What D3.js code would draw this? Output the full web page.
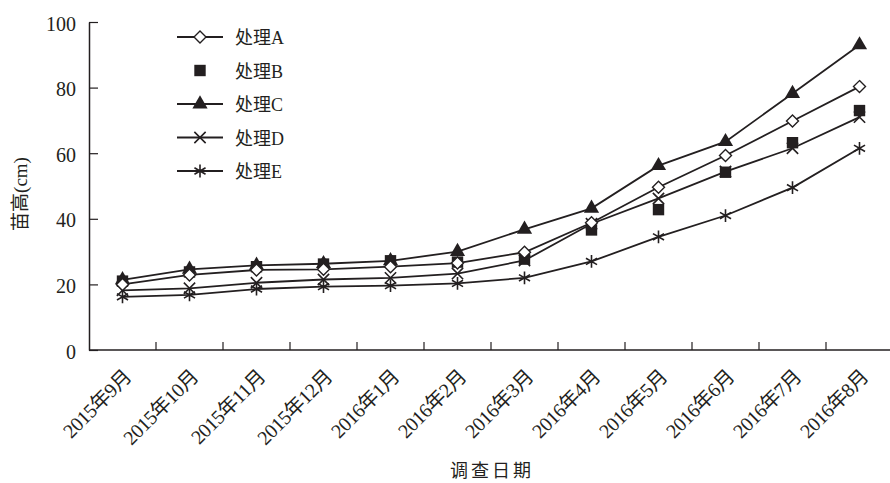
<!DOCTYPE html>
<html>
<head>
<meta charset="utf-8">
<script src="https://cdn.jsdelivr.net/npm/d3@7"></script>
<style>
  body { margin: 0; background: #fff; }
  svg text { font-family: "Liberation Serif", "Noto Sans CJK SC", serif; fill: #231f20; }
</style>
</head>
<body>
<div id="chart"></div>
<script>
// 调查日期
const categories = ["2015年9月", "2015年10月", "2015年11月", "2015年12月", "2016年1月", "2016年2月",
                    "2016年3月", "2016年4月", "2016年5月", "2016年6月", "2016年7月", "2016年8月"];
// 苗高 (cm)
const seriesA = [20.0, 22.9, 24.4, 24.6, 25.4, 26.5, 29.8, 38.8, 49.6, 59.3, 69.8, 80.3];
const seriesB = [21.0, 23.8, 25.4, 26.2, 27.2, 26.8, 27.7, 36.6, 42.8, 54.2, 63.2, 73.0];
const seriesC = [21.4, 24.6, 25.8, 26.3, 27.2, 30.0, 36.8, 43.2, 56.2, 63.5, 78.2, 93.0];
const seriesD = [18.2, 18.8, 20.5, 21.5, 22.0, 23.3, 27.3, 38.5, 46.2, 54.4, 61.5, 71.0];
const seriesE = [16.2, 16.8, 18.6, 19.3, 19.6, 20.3, 22.0, 27.0, 34.5, 41.0, 49.5, 61.5];
const seriesNames = ["处理A", "处理B", "处理C", "处理D", "处理E"];
const yTicks = [0, 20, 40, 60, 80, 100];

const ink = "#231f20";
const W = 890, H = 483;
const plot = { left: 89, right: 893, top: 22, bottom: 350 };

const svg = d3.select("#chart").append("svg")
    .attr("width", W)
    .attr("height", H);

const x = d3.scaleBand().domain(categories).range([plot.left, plot.right]).padding(0);
const y = d3.scaleLinear().domain([0, 100]).range([plot.bottom, plot.top]);
const cx = d => x(d) + x.bandwidth() / 2;

// Trục Y
const yAxis = svg.append("g")
    .attr("transform", `translate(${plot.left},0)`)
    .call(d3.axisLeft(y).tickValues(yTicks).tickSizeInner(-9).tickSizeOuter(0).tickPadding(13));
yAxis.select(".domain").attr("stroke", ink).attr("stroke-width", 1.5);
yAxis.selectAll(".tick line").attr("stroke", ink).attr("stroke-width", 1.2);
yAxis.selectAll(".tick text")
    .style("font-size", "20px")
    .style("font-family", "'Liberation Serif', serif")
    .attr("dy", "0.4em")
    .attr("fill", ink);

// Trục X: vạch chia ở ranh giới giữa các tháng
svg.append("line")
    .attr("x1", plot.left).attr("x2", W)
    .attr("y1", y(0)).attr("y2", y(0))
    .attr("stroke", ink).attr("stroke-width", 1.5);
svg.selectAll(".xtick")
    .data(categories.slice(1))
    .join("line")
    .attr("class", "xtick")
    .attr("x1", d => x(d)).attr("x2", d => x(d))
    .attr("y1", y(0)).attr("y2", y(0) - 8)
    .attr("stroke", ink).attr("stroke-width", 1.2);
svg.selectAll(".xlabel")
    .data(categories)
    .join("text")
    .attr("class", "xlabel")
    .attr("transform", d => `translate(${cx(d) + 10},${y(0) + 28}) rotate(-45)`)
    .attr("text-anchor", "end")
    .style("font-size", "20px")
    .style("letter-spacing", "-0.5px")
    .text(d => d);

// Tiêu đề trục
svg.append("text")
    .attr("x", 492).attr("y", 477)
    .attr("text-anchor", "middle")
    .style("font-size", "18px")
    .style("letter-spacing", "3px")
    .text("调查日期");
svg.append("text")
    .attr("transform", `translate(27,${(plot.top + plot.bottom) / 2 + 8}) rotate(-90)`)
    .attr("text-anchor", "middle")
    .style("font-size", "19px")
    .text("苗高(cm)");

// Hình thoi rỗng: hình vuông xoay 45°
const diamond = {
    draw(ctx, size) {
        const r = Math.sqrt(size / 2);
        ctx.moveTo(0, -r); ctx.lineTo(r, 0); ctx.lineTo(0, r); ctx.lineTo(-r, 0); ctx.closePath();
    }
};

// Cấu hình ký hiệu cho từng chuỗi
const specs = [
    { name: seriesNames[0], values: seriesA, line: true,  type: diamond,          size: 72, fill: "#fff", stroke: ink, sw: 1.4 },
    { name: seriesNames[1], values: seriesB, line: false, type: d3.symbolSquare,   size: 130, fill: ink,   stroke: "none", sw: 0 },
    { name: seriesNames[2], values: seriesC, line: true,  type: d3.symbolTriangle, size: 100, fill: ink,   stroke: "none", sw: 0 },
    { name: seriesNames[3], values: seriesD, line: true,  type: d3.symbolX,        size: 85, fill: "none", stroke: ink, sw: 1.6 },
    { name: seriesNames[4], values: seriesE, line: true,  type: d3.symbolAsterisk, size: 115, fill: "none", stroke: ink, sw: 1.6 }
];

const lineGen = d3.line()
    .x((d, i) => cx(categories[i]))
    .y(d => y(d));

// Vẽ các đường trước, rồi ký hiệu
specs.filter(s => s.line).forEach(s => {
    svg.append("path")
        .datum(s.values)
        .attr("d", lineGen)
        .attr("fill", "none")
        .attr("stroke", ink)
        .attr("stroke-width", 1.8);
});

// Thứ tự vẽ ký hiệu: E, D, B, C, A (A ở trên cùng)
[4, 3, 1, 2, 0].forEach(k => {
    const s = specs[k];
    svg.append("g")
        .selectAll("path")
        .data(s.values)
        .join("path")
        .attr("transform", (d, i) => `translate(${cx(categories[i])},${y(d)})`)
        .attr("d", d3.symbol().type(s.type).size(s.size))
        .attr("fill", s.fill)
        .attr("stroke", s.stroke)
        .attr("stroke-width", s.sw);
});

// Chú giải
const legend = svg.append("g").attr("transform", "translate(177,37)");
specs.forEach((s, i) => {
    const g = legend.append("g").attr("transform", `translate(0,${i * 33.5})`);
    if (s.line) {
        g.append("line")
            .attr("x1", 0).attr("x2", 46)
            .attr("y1", 0).attr("y2", 0)
            .attr("stroke", ink).attr("stroke-width", 1.8);
    }
    g.append("path")
        .attr("transform", "translate(23,0)")
        .attr("d", d3.symbol().type(s.type).size(s.size))
        .attr("fill", s.fill)
        .attr("stroke", s.stroke)
        .attr("stroke-width", s.sw);
    g.append("text")
        .attr("x", 58).attr("y", 7)
        .style("font-size", "18px")
        .text(s.name);
});
</script>
</body>
</html>
